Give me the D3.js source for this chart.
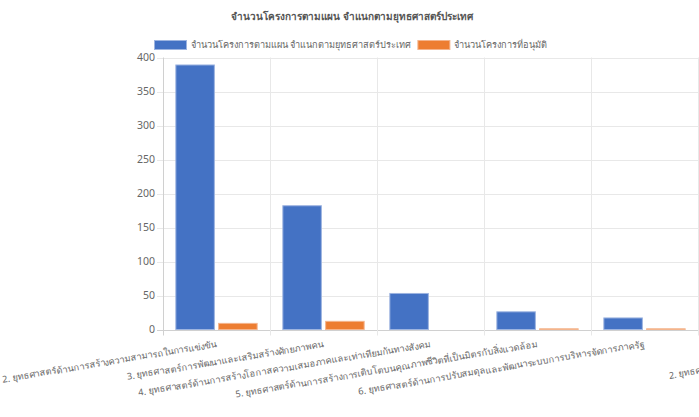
<!DOCTYPE html>
<html>
<head>
<meta charset="utf-8">
<script src="https://cdn.jsdelivr.net/npm/d3@7"></script>
<style>
  body { margin: 0; background: #fff; }
  svg { display: block; font-family: "Noto Sans", "DejaVu Sans", sans-serif; }
</style>
</head>
<body>
<div id="chart"></div>
<script>
const title = 'จำนวนโครงการตามแผน จำแนกตามยุทธศาสตร์ประเทศ'
const seriesNames = ['จำนวนโครงการตามแผน จำแนกตามยุทธศาสตร์ประเทศ', 'จำนวนโครงการที่อนุมัติ']
const categories = [
    '2. ยุทธศาสตร์ด้านการสร้างความสามารถในการแข่งขัน',
    '3. ยุทธศาสตร์การพัฒนาและเสริมสร้างศักยภาพคน',
    '4. ยุทธศาสตร์ด้านการสร้างโอกาสความเสมอภาคและเท่าเทียมกันทางสังคม',
    '5. ยุทธศาสตร์ด้านการสร้างการเติบโตบนคุณภาพชีวิตที่เป็นมิตรกับสิ่งแวดล้อม',
    '6. ยุทธศาสตร์ด้านการปรับสมดุลและพัฒนาระบบการบริหารจัดการภาครัฐ',
]
const planned = [389, 182, 53, 26, 17]
const approved = [9, 12, 0, 1, 1]
const yTicks = [0, 50, 100, 150, 200, 250, 300, 350, 400]
// label of the next (cut off) category peeking in at the right edge
const overflowLabel = '2. ยุทธศาสตร์ด้านการสร้างความสามารถในการแข่งขัน'

const colors = ['#4472C4', '#ED7D31']
const borders = ['#9db4e0', '#f4b48c']
const thaiSize = 9.2

const width = 699, height = 417
const margin = {top: 57.5, right: 1, bottom: 87.5, left: 163}

const svg = d3.select('#chart').append('svg')
    .attr('width', width)
    .attr('height', height)

const x = d3.scaleBand()
    .domain(categories)
    .range([margin.left, width - margin.right])

const inner = d3.scaleBand()
    .domain([0, 1])
    .range([0, x.bandwidth() * 0.8])

const y = d3.scaleLinear()
    .domain([0, 400])
    .range([height - margin.bottom, margin.top])

// title
svg.append('text')
    .text(title)
    .attr('x', 352)
    .attr('y', 20)
    .attr('text-anchor', 'middle')
    .attr('font-size', 10)
    .attr('font-weight', 'bold')
    .attr('fill', '#555')

// legend
const legend = svg.append('g').attr('transform', 'translate(154 40)')
let lx = 0
seriesNames.forEach((name, i) => {
    const g = legend.append('g').attr('transform', `translate(${lx} 0)`)
    g.append('rect')
        .attr('x', 0.5).attr('y', 0.5)
        .attr('width', 32).attr('height', 9)
        .attr('fill', colors[i])
        .attr('stroke', borders[i])
    const t = g.append('text')
        .text(name)
        .attr('x', 37)
        .attr('y', 8)
        .attr('font-size', thaiSize)
        .attr('fill', '#666')
    lx += 37 + t.node().getComputedTextLength() + 6
})

// grid
const grid = svg.append('g')
grid.selectAll('.h')
    .data(yTicks)
    .enter()
    .append('line')
    .attr('x1', margin.left - 6)
    .attr('x2', width - margin.right)
    .attr('y1', d => Math.round(y(d)) + 0.5)
    .attr('y2', d => Math.round(y(d)) + 0.5)
    .attr('stroke', d => d === 0 ? '#d0d0d0' : '#e8e8e8')

const edges = categories.map(c => x(c)).concat([x.range()[1]])
grid.selectAll('.v')
    .data(edges)
    .enter()
    .append('line')
    .attr('x1', d => Math.round(d) + 0.5)
    .attr('x2', d => Math.round(d) + 0.5)
    .attr('y1', margin.top)
    .attr('y2', height - margin.bottom + 6)
    .attr('stroke', (d, i) => i === 0 ? '#d0d0d0' : '#e8e8e8')

// y axis labels
const yAxis = svg.append('g')
    .attr('transform', `translate(${margin.left - 8} 0)`)
    .call(d3.axisLeft(y).tickValues(yTicks).tickSize(0).tickPadding(0))
yAxis.select('.domain').remove()
yAxis.selectAll('text')
    .attr('font-size', 10.5)
    .attr('fill', '#666')
    .attr('font-family', '"Noto Sans", "DejaVu Sans", sans-serif')

// bars
const series = [planned, approved]
series.forEach((vals, s) => {
    svg.append('g').selectAll('rect')
        .data(vals)
        .enter()
        .append('rect')
        .attr('x', (d, i) => x(categories[i]) + x.bandwidth() * 0.1 + inner(s) + inner.bandwidth() * 0.05)
        .attr('width', inner.bandwidth() * 0.9)
        .attr('y', d => y(d))
        .attr('height', d => y(0) - y(d))
        .attr('fill', colors[s])
        .attr('stroke', d => d > 0 ? borders[s] : 'none')
        .attr('stroke-width', 1)
})

// x labels, rotated and anchored at the category centre
const xLabels = svg.append('g')
xLabels.selectAll('text')
    .data(categories)
    .enter()
    .append('text')
    .text(d => d)
    .attr('transform', d => `translate(${x(d) + x.bandwidth() / 2} ${y(0) + 15}) rotate(-9.5)`)
    .attr('text-anchor', 'end')
    .attr('dominant-baseline', 'middle')
    .attr('font-size', thaiSize)
    .attr('fill', '#666')

xLabels.append('text')
    .text(overflowLabel)
    .attr('transform', `translate(${x.range()[1] - 29} ${y(0) + 47}) rotate(-9.5)`)
    .attr('text-anchor', 'start')
    .attr('dominant-baseline', 'middle')
    .attr('font-size', thaiSize)
    .attr('fill', '#666')
</script>
</body>
</html>
